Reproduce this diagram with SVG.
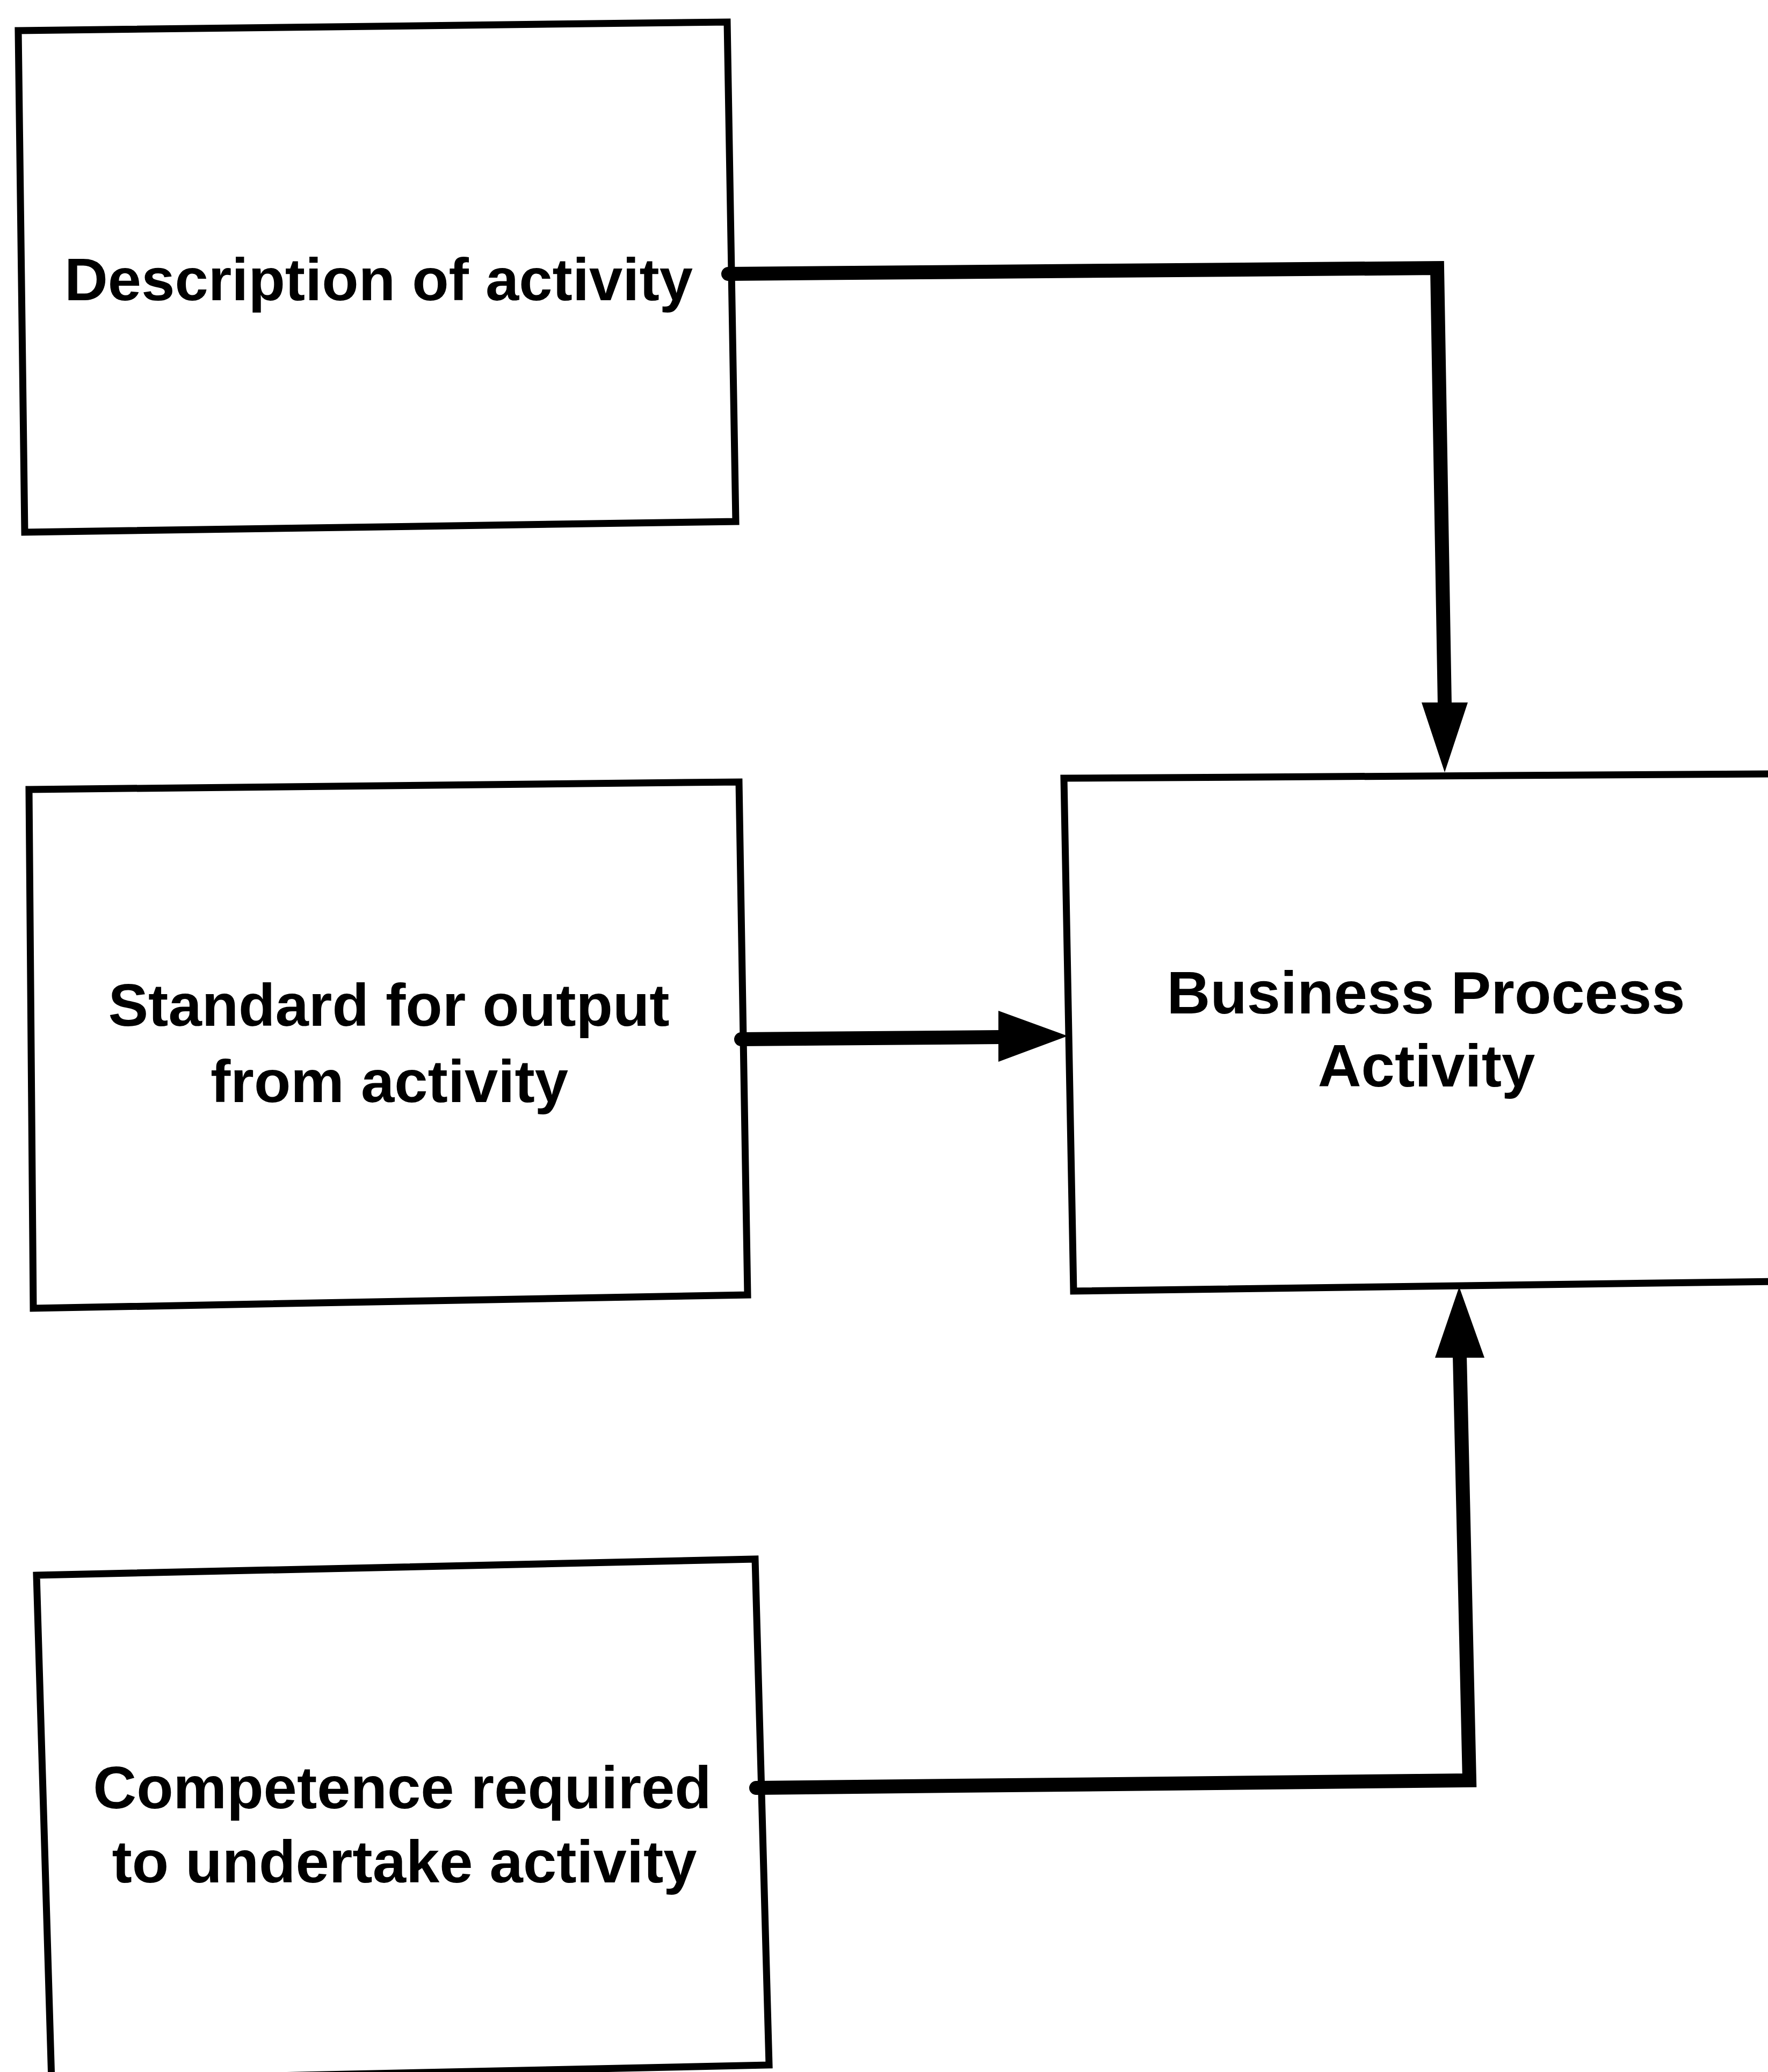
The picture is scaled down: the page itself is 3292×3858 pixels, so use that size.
<svg xmlns="http://www.w3.org/2000/svg" width="3292" height="3858" viewBox="0 0 3292 3858">
  <style>
    .box { fill: #ffffff; stroke: #000000; stroke-width: 13; stroke-linejoin: miter; }
    .label { font-family: "Liberation Sans", Arial, sans-serif; font-weight: bold; font-size: 112px; fill: #000000; text-anchor: middle; }
    .wire { fill: none; stroke: #000000; stroke-width: 26; stroke-linejoin: miter; stroke-linecap: round; }
    .head { fill: #000000; stroke: none; }
  </style>
  <rect x="0" y="0" width="3292" height="3858" fill="#ffffff"/>

  <!-- input boxes -->
  <g id="node-description">
    <polygon class="box" points="34,57 1354,41 1370,971 46,991"/>
    <text class="label" x="705" y="559">Description of activity</text>
  </g>

  <g id="node-standard">
    <polygon class="box" points="54,1470 1376,1456 1392,2411 62,2436"/>
    <text class="label" x="724" y="1910">Standard for output</text>
    <text class="label" x="725" y="2052">from activity</text>
  </g>

  <g id="node-competence">
    <polygon class="box" points="68,2933 1406,2903 1432,3845 96,3874"/>
    <text class="label" x="749" y="3367">Competence required</text>
    <text class="label" x="753" y="3505">to undertake activity</text>
  </g>

  <!-- central activity box, running off the right edge -->
  <g id="node-activity">
    <polygon class="box" points="1981,1449 3310,1441 3310,2386 1999,2404"/>
    <text class="label" x="2655" y="1887">Business Process</text>
    <text class="label" x="2656" y="2023">Activity</text>
  </g>

  <!-- connectors -->
  <g id="connectors">
    <path class="wire" d="M1356,510 L2676,499 L2690,1312"/>
    <polygon class="head" points="2647,1308 2733,1308 2690,1438"/>

    <path class="wire" d="M1380,1935 L1862,1931"/>
    <polygon class="head" points="1859,1882 1859,1977 1988,1929"/>

    <path class="wire" d="M1408,3329 L2736,3315 L2718,2524"/>
    <polygon class="head" points="2672,2528 2764,2528 2717,2396"/>
  </g>
</svg>
